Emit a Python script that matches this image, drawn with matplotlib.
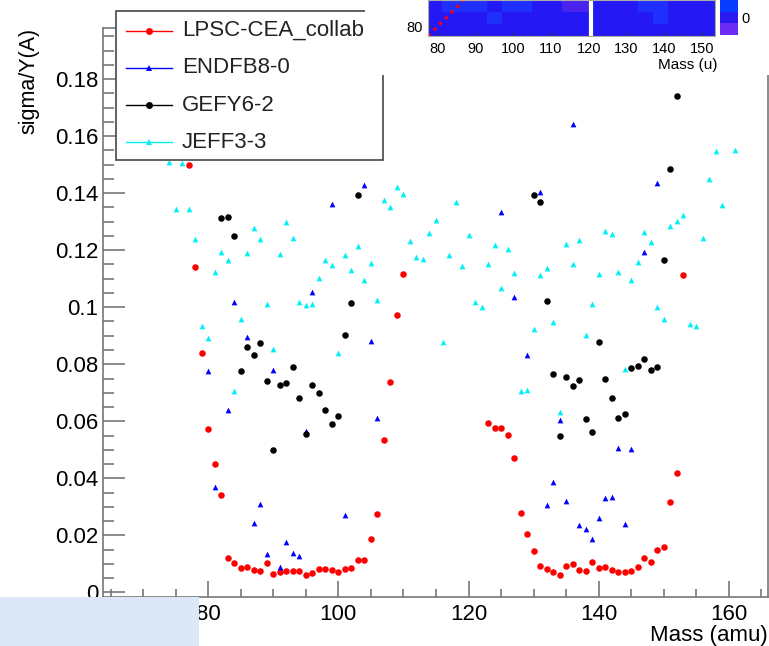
import numpy as np
import matplotlib
matplotlib.use("Agg")
import matplotlib.pyplot as plt
from matplotlib.patches import Rectangle
from matplotlib.colors import ListedColormap
from matplotlib.ticker import MultipleLocator, FuncFormatter

plt.rcParams['font.family'] = ['Liberation Sans', 'DejaVu Sans']

# ---- data ----
red_mass = list(range(77, 111)) + list(range(123, 154))
red_val = [0.150, 0.114, 0.0841, 0.0573, 0.045, 0.0343, 0.0122, 0.0104, 0.0085, 0.0089,
           0.0078, 0.0075, 0.0102, 0.0065, 0.0072, 0.0075, 0.0075, 0.0075, 0.0061, 0.0067,
           0.0081, 0.0082, 0.0079, 0.0071, 0.0081, 0.0086, 0.0115, 0.0112, 0.0188, 0.0274,
           0.0535, 0.0737, 0.0974, 0.1118,
           0.0595, 0.0578, 0.0576, 0.0553, 0.0472, 0.0279, 0.0204, 0.0146, 0.0092, 0.0082,
           0.0070, 0.0062, 0.0092, 0.0101, 0.0078, 0.0074, 0.0105, 0.0086, 0.0089, 0.0080,
           0.0070, 0.0070, 0.0074, 0.0089, 0.0119, 0.0106, 0.0147, 0.0160, 0.0318, 0.0418,
           0.1113]

blue_mass = [80, 81, 83, 84, 86, 87, 88, 89, 90, 91, 92, 93, 94, 95, 96, 99, 101, 104, 105, 106,
             125, 127, 129, 131, 132, 133, 134, 135, 136, 137, 138, 139, 140, 141, 142, 143, 144,
             145, 147, 149]
blue_val = [0.0775, 0.0371, 0.0640, 0.1017, 0.0895, 0.0245, 0.0311, 0.0136, 0.0781, 0.0090,
            0.0178, 0.0137, 0.0129, 0.0566, 0.1055, 0.1361, 0.0272, 0.1430, 0.0883, 0.0612,
            0.1334, 0.1037, 0.0831, 0.1404, 0.0308, 0.0387, 0.0605, 0.0319, 0.1642, 0.0235,
            0.0223, 0.0188, 0.0260, 0.0330, 0.0334, 0.0506, 0.0241, 0.0502, 0.1195, 0.1436]

black_mass = list(range(82, 104)) + list(range(130, 153))
black_val = [0.1312, 0.1315, 0.1251, 0.0775, 0.0859, 0.0832, 0.0874, 0.0742, 0.0498, 0.0727,
             0.0736, 0.0792, 0.0680, 0.0554, 0.0727, 0.0698, 0.0638, 0.0592, 0.0620, 0.0903,
             0.1015, 0.1395,
             0.1395, 0.1370, 0.1022, 0.0767, 0.0547, 0.0757, 0.0724, 0.0745, 0.0609, 0.0564,
             0.0878, 0.0750, 0.0682, 0.0611, 0.0626, 0.0786, 0.0795, 0.0820, 0.0781, 0.0791,
             0.1167, 0.1483, 0.1742]

cyan_mass = list(range(74, 160)) + [161]
cyan_val = [0.151, 0.1343, 0.1506, 0.1345, 0.124, 0.0935, 0.0893, 0.1125, 0.1192, 0.1167,
            0.0707, 0.0959, 0.1191, 0.1279, 0.124, 0.1013, 0.0852, 0.1185, 0.1299, 0.1244,
            0.1020, 0.1008, 0.1011, 0.1101, 0.1164, 0.1148, 0.0838, 0.1182, 0.1132, 0.1215,
            0.1094, 0.1155, 0.1024, 0.1375, 0.135, 0.142, 0.1398, 0.1232, 0.1177, 0.1169,
            0.126, 0.1307, 0.0878, 0.1184, 0.1369, 0.1143, 0.1254, 0.1019, 0.1001, 0.1152,
            0.1217, 0.1066, 0.1205, 0.1120, 0.0708, 0.0710, 0.0922, 0.1112, 0.1138, 0.0947,
            0.0634, 0.1223, 0.1153, 0.1237, 0.0902, 0.1011, 0.1118, 0.1266, 0.1258, 0.1125,
            0.0785, 0.1095, 0.1157, 0.1264, 0.1229, 0.1001, 0.0960, 0.1284, 0.1303, 0.1323,
            0.0940, 0.0933, 0.1244, 0.1450, 0.1547, 0.1358, 0.1552]

series_names = ["LPSC-CEA_collab", "ENDFB8-0", "GEFY6-2", "JEFF3-3"]

# inset (correlation map, only its bottom strip is visible)
inset_x_edges = [77.35, 81, 85, 89, 93, 97, 101, 105, 109, 113, 117, 121, 125, 129, 133, 137,
                 141, 145, 149, 153.5]
inset_y_edges = [77.35, 80.5, 83.7, 86.9]
inset_levels = [
    [1, 1, 1, 1, 1, 1, 1, 1, 1, 1, 1, 1, 1, 1, 1, 1, 1, 1, 1],
    [1, 1, 1, 1, 2, 1, 1, 1, 1, 1, 1, 1, 1, 1, 1, 2, 1, 1, 1],
    [1, 2, 2, 2, 1, 2, 2, 1, 1, 0, 0, 1, 1, 1, 2, 2, 1, 1, 1],
]
inset_gap = 120.7

W, H = 769, 646


def px_rect(x0, y0, x1, y1):
    return [x0 / W, 1 - y1 / H, (x1 - x0) / W, (y1 - y0) / H]


fig = plt.figure(figsize=(W / 100, H / 100), dpi=100)

# ---- main frame ----
ax = fig.add_axes(px_rect(102.7, 28.3, 768, 596.7), zorder=1)
ax.set_xlim(63.8, 166)
ax.set_ylim(-0.0015, 0.1978)

cyan_col = '#00f0f8'
ax.scatter(red_mass, red_val, s=22, marker='o', color='#ff0000', linewidths=0, zorder=3)
ax.scatter(blue_mass, blue_val, s=17, marker='^', color='#0000ff', linewidths=0, zorder=3)
ax.scatter(black_mass, black_val, s=22, marker='o', color='black', linewidths=0, zorder=3)
ax.scatter(cyan_mass, cyan_val, s=17, marker='^', color=cyan_col, linewidths=0, zorder=3)

frame_col = '#777777'
for sp in ax.spines.values():
    sp.set_color(frame_col)
    sp.set_linewidth(1.2)

ax.xaxis.set_major_locator(MultipleLocator(20))
ax.xaxis.set_minor_locator(MultipleLocator(5))
ax.yaxis.set_major_locator(MultipleLocator(0.02))
ax.yaxis.set_minor_locator(MultipleLocator(0.005))
ax.yaxis.set_major_formatter(FuncFormatter(lambda v, p: '%g' % round(v, 4)))
ax.tick_params(axis='x', which='major', direction='in', length=11.5, width=1.2,
               color=frame_col, labelsize=16, pad=5.5, top=False)
ax.tick_params(axis='x', which='minor', direction='in', length=5.8, width=1.2,
               color=frame_col, top=False)
ax.tick_params(axis='y', which='major', direction='in', length=15.5, width=1.2,
               color=frame_col, labelsize=16, pad=3, right=False)
ax.tick_params(axis='y', which='minor', direction='in', length=8, width=1.2,
               color=frame_col, right=False)

fig.text(768 / W, 1 - 635 / H, 'Mass (amu)', ha='right', va='center', fontsize=16)
fig.text(29 / W, 1 - 28.3 / H, 'sigma/Y(A)', rotation=90, ha='center', va='top', fontsize=15.5)

# ---- legend (pixel overlay) ----
ov = fig.add_axes([0, 0, 1, 1], zorder=2)
ov.set_xlim(0, W)
ov.set_ylim(H, 0)
ov.axis('off')
ov.patch.set_alpha(0)
ov.add_patch(Rectangle((116, 11), 267, 149, facecolor='white', edgecolor='#555555', lw=1.3))
styles = [('#ff0000', 'o', 5), ('#0000ff', '^', 4.5), ('black', 'o', 5), (cyan_col, '^', 4.5)]
for i, (name, (col, mk, ms)) in enumerate(zip(series_names, styles)):
    y = 30.5 + 37.3 * i
    ov.plot([126, 172], [y, y], color=col, lw=1)
    ov.plot([149], [y], marker=mk, ms=ms, color=col, mew=0)
    ov.text(182, y, name, va='center', ha='left', fontsize=16, color='#222222')

# ---- inset pad (white) ----
fig.add_artist(Rectangle((365 / W, 1 - 75 / H), (W - 365) / W, 75 / H,
                         transform=fig.transFigure, facecolor='white', edgecolor='none', zorder=3))

axi = fig.add_axes(px_rect(428, 0, 715, 36), zorder=4)
cmap = ListedColormap(['#4a22ec', '#2418f4', '#2030fc'])
axi.pcolormesh(inset_x_edges, inset_y_edges, np.array(inset_levels), cmap=cmap, vmin=-0.5, vmax=2.5)
axi.axvline(inset_gap, color='white', lw=3)
lo, hi = inset_y_edges[0], inset_y_edges[-1]
axi.plot([lo, hi], [lo, hi], color='red', ls=':', lw=2.2)
axi.set_xlim(inset_x_edges[0], inset_x_edges[-1])
axi.set_ylim(lo, hi)
axi.xaxis.set_major_locator(MultipleLocator(10))
axi.xaxis.set_minor_locator(MultipleLocator(2))
axi.set_yticks([80])
for sp in axi.spines.values():
    sp.set_color('#aaaaaa')
axi.tick_params(axis='both', which='major', direction='in', length=3, color='#333333',
                labelsize=10.5, pad=4)
axi.tick_params(axis='x', which='minor', direction='in', length=1.5, color='#333333')
fig.text(718 / W, 1 - 65 / H, 'Mass (u)', ha='right', va='center', fontsize=11)

# colour scale of the inset
axc = fig.add_axes(px_rect(720, 0, 738, 35), zorder=4)
axc.pcolormesh([0, 1], [0, 1, 2, 3], np.array([[0], [1], [2]]),
               cmap=ListedColormap(['#6a2cf5', '#2a1af0', '#0a3cff']), vmin=-0.5, vmax=2.5)
axc.set_xticks([])
axc.set_yticks([])
for sp in axc.spines.values():
    sp.set_visible(False)
fig.text(741 / W, 1 - 19 / H, '0', ha='left', va='center', fontsize=10.5)

# ---- pale blue block in lower-left corner ----
fig.add_artist(Rectangle((0, 0), 199 / W, 49.5 / H, transform=fig.transFigure,
                         facecolor='#dce8f5', edgecolor='none', zorder=10))

fig.savefig('out.png', dpi=100)
